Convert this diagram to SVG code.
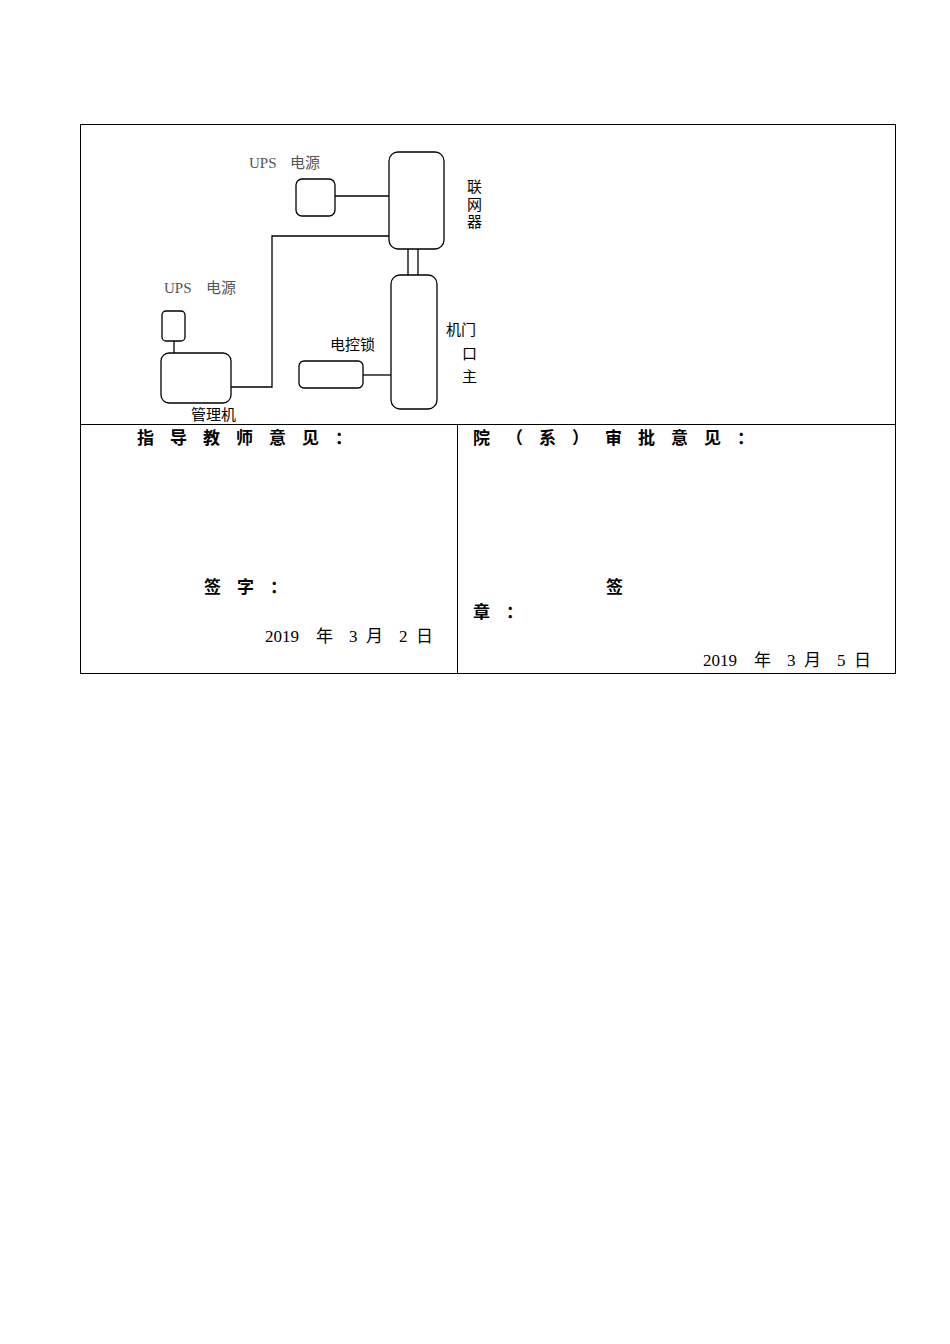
<svg xmlns="http://www.w3.org/2000/svg" width="950" height="1344" viewBox="0 0 950 1344">
<style>
.b{fill:#fff;stroke:#000;stroke-width:1.3}
.l{fill:none;stroke:#000;stroke-width:1.3}
.t{font-family:"Liberation Serif","Noto Sans CJK SC",serif;font-size:15px;fill:#000}
.g{font-family:"Liberation Serif","Noto Sans CJK SC",serif;font-size:15px;fill:#555}
.h{font-family:"Liberation Sans","Noto Sans CJK SC",sans-serif;font-size:17px;font-weight:bold;fill:#000}
.d{font-family:"Liberation Serif","Noto Sans CJK SC",serif;font-size:17px;fill:#000}
</style>
<rect width="950" height="1344" fill="#fff"/>
<g id="table">
<rect x="80.5" y="124.5" width="815" height="549" fill="none" stroke="#000"/>
<line x1="80" y1="424.5" x2="895" y2="424.5" stroke="#000"/>
<line x1="457.5" y1="424" x2="457.5" y2="673" stroke="#000"/>
</g>
<g id="connectors">
<line class="l" x1="335" y1="196" x2="389" y2="196"/>
<polyline class="l" points="389,236 272,236 272,387 231,387"/>
<line class="l" x1="408" y1="249" x2="408" y2="275"/>
<line class="l" x1="418" y1="249" x2="418" y2="275"/>
<line class="l" x1="174" y1="341" x2="174" y2="353"/>
<line class="l" x1="363" y1="375" x2="391" y2="375"/>
</g>
<g id="ups1"><rect class="b" x="296" y="179" width="39" height="37" rx="6"/><text class="g" x="249" y="168">UPS</text><text class="g" x="290" y="168">电源</text></g>
<g id="router"><rect class="b" x="389" y="152" width="55" height="97" rx="9"/><text class="t" x="467" y="192">联</text><text class="t" x="467" y="210">网</text><text class="t" x="467" y="227">器</text></g>
<g id="host"><rect class="b" x="391" y="275" width="46" height="134" rx="9"/><text class="t" x="446" y="335">机门</text><text class="t" x="462" y="359">口</text><text class="t" x="462" y="382">主</text></g>
<g id="ups2"><rect class="b" x="162" y="311" width="23" height="30" rx="4"/><text class="g" x="164" y="293">UPS</text><text class="g" x="206" y="293">电源</text></g>
<g id="manager"><rect class="b" x="161" y="353" width="70" height="50" rx="8"/><text class="t" x="191" y="420">管理机</text></g>
<g id="lock"><rect class="b" x="299" y="361" width="64" height="27" rx="5"/><text class="t" x="330" y="350">电控锁</text></g>
<g id="texts">
<text class="h" x="137" y="444" letter-spacing="16">指导教师意见：</text>
<text class="h" x="473" y="444" letter-spacing="16">院（系）审批意见：</text>
<text class="h" x="204" y="593" letter-spacing="16">签字：</text>
<text class="d" y="642"><tspan x="265">2019</tspan><tspan x="316">年</tspan><tspan x="349">3</tspan><tspan x="366">月</tspan><tspan x="399">2</tspan><tspan x="416">日</tspan></text>
<text class="h" x="606" y="593">签</text>
<text class="h" x="473" y="618" letter-spacing="16">章：</text>
<text class="d" y="666"><tspan x="703">2019</tspan><tspan x="754">年</tspan><tspan x="787">3</tspan><tspan x="804">月</tspan><tspan x="837">5</tspan><tspan x="854">日</tspan></text>
</g>
</svg>
